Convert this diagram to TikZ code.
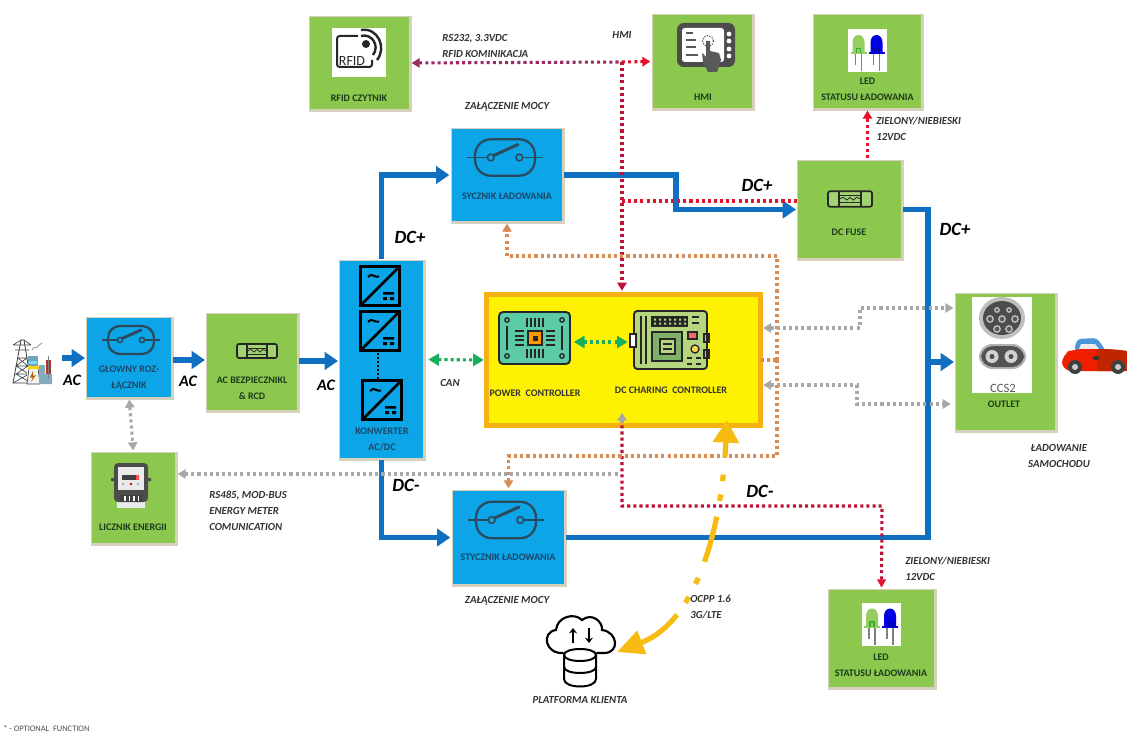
\documentclass[tikz,border=0pt]{standalone}
\usepackage{fontspec}
\setmainfont{Carlito}
\usetikzlibrary{arrows.meta,calc}
\definecolor{cgreen}{HTML}{8CC84E}
\definecolor{cblue}{HTML}{0BA5E8}
\definecolor{cline}{HTML}{0F6FC0}
\definecolor{cshadow}{HTML}{D6D0BC}
\definecolor{cgray}{HTML}{A8A8A8}
\definecolor{cred}{HTML}{E5122D}
\definecolor{ccrim}{HTML}{BE1238}
\definecolor{cmaroon}{HTML}{9B2C60}
\definecolor{corange}{HTML}{D98B55}
\definecolor{cgrn}{HTML}{17AE5C}
\definecolor{cgold}{HTML}{F6BC12}
\definecolor{cborder}{HTML}{F5B014}
\definecolor{ctxtb}{HTML}{1B4668}
\definecolor{ctxtg}{HTML}{1C3A1E}
\definecolor{cicon}{HTML}{2B4A5E}
\definecolor{cpcb}{HTML}{5CC9A7}
\definecolor{cdcb}{HTML}{B5D67E}
\definecolor{cdcc}{HTML}{7FB069}
\tikzset{
  plainbox/.style={inner sep=0,outer sep=0,draw=none},
  gbox/.style={plainbox,fill=cgreen},
  bbox/.style={plainbox,fill=cblue},
  lab/.style={inner sep=0,align=center,font=\bfseries\fontsize{7.5}{9}\selectfont},
  labb/.style={lab,text=ctxtb},
  labg/.style={lab,text=ctxtg},
  note/.style={inner sep=0,anchor=west,font=\bfseries\itshape\fontsize{8.1}{9}\selectfont,text=black!80},
  notec/.style={note,anchor=center},
  big/.style={inner sep=0,font=\bfseries\itshape\fontsize{14}{16}\selectfont},
  acl/.style={inner sep=0,font=\bfseries\itshape\fontsize{12}{14}\selectfont},
  bl/.style={draw=cline,line width=4.2pt,line join=miter,shorten >=1.5pt,shorten <=1.5pt},
  blt/.style={bl,-{Triangle[length=10pt,width=13pt]}},
  dot/.style={line width=2.3pt,dash pattern=on 2.3pt off 2.3pt,shorten >=2pt,shorten <=2pt,
     arrows={-}},
  tipe/.style={-{Triangle[length=6pt,width=7pt]}},
  tips/.style={{Triangle[length=6pt,width=7pt]}-},
  tipb/.style={{Triangle[length=6pt,width=7pt]}-{Triangle[length=6pt,width=7pt]}},
}
\newcommand\bxn[6]{%
  \fill[cshadow] (#2-1,#3-1) rectangle (#4+3,#5+3);
  \pgfmathsetmacro\qcx{(#2+#4)/2}\pgfmathsetmacro\qcy{(#3+#5)/2}%
  \pgfmathsetmacro\qw{(#4-#2)*0.75}\pgfmathsetmacro\qh{(#5-#3)*0.75}%
  \node[#6,minimum width=\qw pt,minimum height=\qh pt] (#1) at (\qcx,\qcy) {};
}
\newcommand\swic[3]{%
  \begin{scope}[shift={(#1,#2)},scale=#3]
    \pgfmathsetmacro\qr{#3*9}
    \draw[cicon,line width=1.7pt,rounded corners=\qr pt] (-23,-14) rectangle (23,14);
    \draw[cicon,line width=1.4pt] (-29,0)--(-11,0) (11,0)--(29,0);
    \draw[cicon,line width=2.2pt,line cap=round] (-10,-1)--(10,-10);
    \draw[cicon,line width=1.2pt,fill=cblue] (-11,0) circle (2.6) (11,0) circle (2.6);
  \end{scope}}
\newcommand\fuseic[3]{%
  \begin{scope}[shift={(#1,#2)},scale=#3]
    \draw[black!85,line width=1.3pt,rounded corners=1.5pt,fill=cgreen!80!white] (-20,-7) rectangle (20,7);
    \draw[black!85,line width=1.1pt] (-10,-7)--(-10,7) (10,-7)--(10,7);
    \draw[black!85,line width=.6pt] (-10,-3)--(10,-3) (-10,3)--(10,3);
    \draw[black!85,line width=.6pt] (-10,0)--(-6,-1.5)--(-3,1)--(0,-1.5)--(3,1)--(6,-1.5)--(10,0);
  \end{scope}}
\newcommand\convic[2]{%
  \begin{scope}[shift={(#1,#2)}]
    \draw[black,line width=2.3pt,fill=cblue] (-19.5,-19.5) rectangle (19.5,19.5);
    \draw[black,line width=2pt] (-19.5,19.5)--(19.5,-19.5);
    \draw[black,line width=1.5pt] (-12,-9) .. controls (-8,-14) and (-6,-8) .. (-1,-9.5);
    \fill[black] (3,6) rectangle (14,8.5) (3,11) rectangle (7,14) (10,11) rectangle (14,14);
  \end{scope}}
\newcommand\ledic[2]{%
  \begin{scope}[shift={(#1,#2)}]
    \fill[white] (-19.5,-21.5) rectangle (19.5,21.5);
    \draw[gray,line width=.9pt] (-12,4)--(-12,15) (-6,4)--(-6,21) (6,4)--(6,15) (12,4)--(12,21);
    \fill[cgreen!90!white] (-15,3) -- (-15,-8) .. controls (-15,-18) and (-3,-18) .. (-3,-8) -- (-3,3) -- cycle;
    \fill[cgreen!90!white] (-17,2) rectangle (-1,4);
    \draw[green!60!black!80,line width=.8pt] (-11,3)--(-11,-2)--(-7,-2)--(-7,3);
    \fill[blue!90!black] (3,3) -- (3,-8) .. controls (3,-18) and (15,-18) .. (15,-8) -- (15,3) -- cycle;
    \fill[blue!90!black] (1,2) rectangle (17,4);
    \draw[blue!60!black,line width=.6pt] (7,3)--(7,-2)--(11,-2)--(11,3);
  \end{scope}}
\begin{document}
\begin{tikzpicture}[x=0.75pt,y=-0.75pt]
\useasboundingbox (0,0) rectangle (1127,734);
\fill[white] (0,0) rectangle (1127,734);
% boxes
\bxn{sw}{87}{318}{171}{397}{bbox}
\bxn{acf}{207}{314}{297}{410}{gbox}
\bxn{conv}{340}{261}{423}{458}{bbox}
\bxn{meter}{92}{453}{175}{543}{gbox}
\bxn{rfid}{310}{17}{409}{109}{gbox}
\bxn{hmi}{653}{15}{752}{108}{gbox}
\bxn{syc}{452}{129}{562}{221}{bbox}
\bxn{dcf}{798}{161}{901}{258}{gbox}
\bxn{ledt}{814}{15}{921}{108}{gbox}
\bxn{out}{956}{294}{1055}{430}{gbox}
\bxn{sty}{453}{491}{564}{584}{bbox}
\bxn{ledb}{829}{590}{934}{687}{gbox}
\node[plainbox,minimum width=205.5pt,minimum height=98pt,fill=yellow,draw=cborder,line width=3.8pt] (main) at (623.5,360) {};
\node[plainbox,minimum width=53pt,minimum height=39pt] (pc) at (534.5,338) {};
\node[plainbox,minimum width=55.5pt,minimum height=43.5pt] (dcc) at (670,340) {};
\node[plainbox,minimum width=37pt,minimum height=38pt] (src) at (35,361) {};
\node[plainbox,minimum width=54pt,minimum height=53pt] (cloud) at (581,652) {};
\node[plainbox,minimum width=48pt,minimum height=28pt] (car) at (1095,356) {};
\coordinate (jh) at (622,62);
\coordinate (jm) at (622,474);
\coordinate (jr) at (622,201);
\coordinate (jo) at (777,360);
\coordinate (dcbus) at (928,362);
\coordinate (jt) at (622,410);
% blue power lines
\draw[blt] (src.east |- 0,358) -- (sw.west |- 0,358);
\draw[blt] (sw.east |- 0,360) -- (acf.west |- 0,360);
\draw[blt] (acf.east |- 0,361) -- (conv.west |- 0,361);
\draw[blt,shorten >=2pt] (conv.north) |- (syc.west);
\draw[blt,shorten >=2pt] (conv.south) |- (sty.west);
\draw[blt] (syc.east) -- (676,175) |- (dcf.west);
\draw[bl] (dcf.east) -| (dcbus) |- (sty.east);
\draw[blt,shorten <=0pt] (dcbus) -- (out.west);
% dotted signal lines
\draw[dot,tipb,draw=cgray] (sw.south) -- (meter.north);
\draw[dot,tips,draw=cgray] (meter.east |- jm) -- (jm);
\draw[dot,tips,draw=cgray,shorten >=0pt] (jt) -- (jt |- main.south);
\draw[dot,draw=ccrim,shorten <=0pt,shorten >=2pt] (jt |- main.south) |- (882,506) -- (ledb.north);
\draw[tipe,draw=cred,fill=cred,line width=0pt,shorten >=2pt] (ledb.north |- 0,580) -- (ledb.north);
\draw[dot,tips,draw=cmaroon,shorten >=0pt] (rfid.east) -- (jh);
\draw[dot,tipe,draw=cred,shorten <=0pt] (jh) -- (hmi.west);
\draw[dot,draw=ccrim,shorten <=0pt,shorten >=3pt,tipe] (jh) -- (jh |- main.north);
\draw[dot,draw=cred,shorten <=0pt,shorten >=0pt] (jr) -- (dcf.west |- jr);
\draw[dot,tipe,draw=cred] (ledt.south |- dcf.north) -- (ledt.south);
\draw[dot,draw=cgrn,shorten <=4pt,shorten >=2pt,{Triangle[length=8pt,width=9pt]}-{Triangle[length=8pt,width=9pt]}] (conv.east) -- (main.west);
\draw[dot,draw=cgrn,shorten <=3pt,shorten >=4pt,{Triangle[length=8pt,width=9pt]}-{Triangle[length=8pt,width=9pt]}] (pc.east |- 0,342) -- (dcc.west |- 0,342);
\draw[dot,draw=corange,shorten <=0pt,shorten >=0pt] (main.east) -- (jo);
\draw[dot,tipe,draw=corange,shorten <=0pt] (jo) |- (syc.south |- 0,256) -- (syc.south);
\draw[dot,tipe,draw=corange,shorten <=0pt] (jo) |- (sty.north |- 0,456) -- (sty.north);
\draw[dot,tipb,draw=cgray] (main.east |- 0,328) -- (860,328) -- (860,308) -- (out.west |- 0,308);
\draw[dot,tipb,draw=cgray,shorten >=4pt] (main.east |- 0,385) -- (857,385) -- (857,404) -- (out.west |- 0,404);
% yellow OCPP link
\draw[draw=cgold,line width=3.9pt,dash pattern=on 12pt off 13pt on 5pt off 10pt on 5pt off 12pt on 35pt off 13pt on 5pt off 11pt on 5pt off 11pt on 60pt,
  {Triangle[length=17pt,width=19pt]}-{Triangle[length=20pt,width=18pt]}] (727,420) .. controls (722,520) and (700,620) .. (cloud.east |- 0,652);
% source icon
\begin{scope}
  \draw[black!75,line width=.6pt] (13,383)--(21,340)--(24,340)--(31,383)--cycle;
  \draw[black!75,line width=.5pt] (13,345)--(31,345) (15,350)--(29,350) (13,345)--(21,340) (31,345)--(24,340)
    (18,358)--(27,358) (16,366)--(28,366) (15,374)--(30,374) (18,358)--(28,366)--(16,374)--(31,383) (27,358)--(16,366)--(29,374)--(13,383);
  \fill[white] (27,367) rectangle (40,384);
  \draw[black!75,line width=.5pt,fill=black!5] (27,384)--(29,368)--(38,368)--(40,384)--cycle;
  \fill[cyan!60!black!70] (28,356) rectangle (38,366);
  \fill[cyan!50!white] (29,361) rectangle (37,364);
  \fill[yellow!70!orange] (28,366) rectangle (39,369);
  \fill[cyan!55!black!60] (39,365) rectangle (45,384) (45,374) rectangle (52,384);
  \fill[red!60!black!80] (46,360) rectangle (51,374);
  \draw[gray,line width=.6pt] (48.5,356)--(48.5,378);
  \fill[orange!70!black] (33,371)--(30,378)--(33,377)--(31,382)--(36,375)--(33,376)--cycle;
  \draw[gray,line width=.5pt] (32,350) .. controls (34,345) and (36,350) .. (38,346) .. controls (39,344) and (41,345) .. (42,343);
\end{scope}
% switch icons
\swic{131}{340}{1}
\swic{505}{157.5}{1.3}
\swic{506}{520}{1.3}
% fuses
\fuseic{257}{351}{1}
\fuseic{850}{199}{1.1}
% converters
\convic{380}{286}
\convic{380}{331}
\convic{382}{400}
\draw[black,line width=1.5pt,dash pattern=on 1.5pt off 1.5pt] (378,353)--(378,379);
% meter
\begin{scope}
  \fill[black!8] (117,490) rectangle (145,508);
  \fill[black!70] (111,478) rectangle (115,481) (147,478) rectangle (151,481);
  \fill[black!70,rounded corners=3pt] (114,463) rectangle (148,502);
  \fill[black!8] (118,467) rectangle (144,490);
  \fill[black!75] (122,475) rectangle (139,479.5);
  \fill[red!70] (136,475) rectangle (139,479.5);
  \fill[cyan!30!gray] (123,484) circle (1.2) (138,484) circle (1.2);
  \fill[red!80!black] (131,484) circle (1.3);
  \fill[black!75] (120,495) rectangle (142,502);
  \foreach \qx in {124,128.5,133,137.5} \fill[white] (\qx,495.5) rectangle +(1.5,5);
\end{scope}
% RFID
\fill[white] (332,28) rectangle (386,77);
\draw[black!85,line width=1.5pt,rounded corners=2pt] (358,36)--(337,36)--(337,67)--(372,67)--(372,60);
\fill[black!85] (366,44) circle (4);
\draw[black!85,line width=1.8pt] (361,36) .. controls (372,33) and (380,46) .. (373,55);
\draw[black!85,line width=1.8pt] (361,30) .. controls (378,27) and (387,48) .. (377,60);
\node[inner sep=0,font=\fontsize{10.5}{12}\selectfont,text=black!85] at (352,61) {RFID};
% HMI
\fill[black!70,rounded corners=5pt] (677,23) rectangle (735,67);
\fill[white,rounded corners=2pt] (682,28) rectangle (724,62);
\draw[black!65,line width=1pt] (686,33)--(693,33) (686,40)--(696,40) (686,47)--(696,47) (686,55)--(698,55);
\foreach \qy in {34,41,49,56} \fill[white] (729,\qy) circle (2.4);
\draw[black!65,line width=.8pt,dash pattern=on 1pt off 1pt] (708,41) circle (5.5);
\fill[black!65] (706,41) -- (710,41) -- (710,51) -- (719,53) -- (721,60) -- (717,72) -- (708,72) -- (703,62) -- (702,53) -- (706,57) -- cycle;
% LEDs
\ledic{867.5}{50.5}
\ledic{881}{624}
% power controller board
\draw[black!85,line width=1.4pt,fill=cpcb,rounded corners=3pt] (499,312) rectangle (570,364);
\foreach \qx/\qy in {507/320,562/320,507/356,562/356} \draw[black!85,line width=1pt] (\qx,\qy) circle (2.2);
\draw[black!85,line width=1pt] (507,326)--(507,350) (562,326)--(562,350);
\fill[black!85] (527,330) rectangle (543,346);
\fill[orange!80!yellow] (529,332) rectangle (541,344);
\fill[black!85] (532.5,335.5) rectangle (537.5,340.5);
\foreach \qx in {527,531,535,539,543} {\draw[black!85,line width=.9pt] (\qx,318)--(\qx,327) (\qx,349)--(\qx,358);}
\foreach \qy in {331,336,340,345} {\draw[black!85,line width=.9pt] (515,\qy)--(524,\qy) (546,\qy)--(555,\qy);}
% dc controller board
\draw[black!85,line width=1.4pt,fill=cdcb,rounded corners=2.5pt] (634,311) rectangle (707,369);
\fill[white] (630,334) rectangle (636,347);
\draw[black!85,line width=1pt] (630,334) rectangle (636,347) (704,334) rectangle (709,342) (704,350) rectangle (709,358);
\draw[black!85,line width=1.1pt] (641,316)--(641,364) (646,316)--(646,364);
\fill[black!85] (651,316) rectangle (688,327);
\foreach \qx in {654,659,664,669,674,679,684} {\fill[cdcb] (\qx,318.5) rectangle +(2,2) (\qx,322.5) rectangle +(2,2);}
\draw[black!85,line width=1pt,fill=cdcc] (652,332) rectangle (682,361);
\draw[black!85,line width=1pt,fill=cdcb] (660,339) rectangle (675,354);
\draw[black!85,line width=1pt] (663,344)--(672,344) (663,349)--(672,349);
\draw[black!85,line width=.8pt,fill=red!60!white!90!gray] (688,332) rectangle (697,339);
\draw[black!85,line width=1pt,fill=yellow!60!orange!70] (695,349) circle (4);
\draw[black!85,line width=1pt] (687,358)--(692,358) (696,358)--(701,358) (687,364)--(692,364) (696,364)--(701,364) (692,317)--(699,317) (692,323)--(699,323);
% outlet
\fill[white] (972,297) rectangle (1032,393);
\fill[black!25] (1002,318) ellipse (23 and 21);
\fill[black!70] (1002,318) ellipse (19 and 17);
\foreach \qx/\qy/\qr in {997/310/2.2,1009/310/2.2,990/319/3.2,1002/319/3.2,1015/319/3.2,997/329/3.2,1009/329/3.2}
  {\draw[black!25,line width=1pt,fill=black!65] (\qx,\qy) circle (\qr);}
\fill[black!30,rounded corners=10pt] (979,344) rectangle (1026,369);
\fill[black!68,rounded corners=9pt] (981,346) rectangle (1024,367);
\foreach \qx in {992,1011} {\fill[black!18] (\qx,356.5) circle (6.5); \fill[black!70] (\qx,356.5) circle (2.5);}
\node[inner sep=0,font=\fontsize{9.5}{11}\selectfont,text=black!65] at (1003,388) {CCS2};
% car
\fill[cyan!65!blue!75,rounded corners=3pt] (1074,351) -- (1077,339) -- (1097,338) -- (1106,351) -- cycle;
\fill[white!85!gray] (1079,349) -- (1081,344) -- (1095,344) -- (1099,349) -- cycle;
\fill[red!75!orange!95!black,rounded corners=7pt] (1062,371) -- (1062,354) -- (1074,349) -- (1110,349) -- (1135,352) -- (1135,371) -- cycle;
\begin{scope}
  \clip (1097,340) rectangle (1127,372);
  \fill[red!60!orange!75!black,rounded corners=7pt] (1062,371) -- (1062,354) -- (1074,349) -- (1110,349) -- (1135,352) -- (1135,371) -- cycle;
\end{scope}
\fill[black!80] (1096,358) ellipse (3.5 and 2);
\fill[black!75] (1075,367) circle (7) (1118,367) circle (7);
\fill[black!20] (1075,367) circle (3) (1118,367) circle (3);
% cloud
\begin{scope}
  \draw[black,line width=1.6pt,line cap=round] (563,653) .. controls (545,654) and (541,632) .. (556,630) .. controls (557,617) and (574,612) .. (582,620) .. controls (592,612) and (603,622) .. (602,630) .. controls (618,632) and (620,653) .. (604,653) -- (597,653);
  \draw[black,line width=1.5pt,fill=white] (564,655) .. controls (564,647) and (596,647) .. (596,655) -- (596,679) .. controls (596,689) and (564,689) .. (564,679) -- cycle;
  \draw[black,line width=1.5pt] (564,655) .. controls (564,663) and (596,663) .. (596,655);
  \draw[black,line width=1.5pt] (564,667) .. controls (564,675) and (596,675) .. (596,667);
  \draw[black,line width=1.5pt,-{Stealth[length=4pt,width=6pt]}] (573,643) -- (573,628);
  \draw[black,line width=1.5pt,-{Stealth[length=4pt,width=6pt]}] (589,628) -- (589,643);
\end{scope}
% box labels
\node[labb] (t1) at (129,378) {GŁOWNY ROZ-\\[3pt]ŁĄCZNIK};
\node[labg] (t2) at (252,388) {AC BEZPIECZNIKL\\[3pt]\& RCD};
\node[labb] (t3) at (382,439) {KONWERTER\\[3pt]AC/DC};
\node[labg] (t4) at (133,527) {LICZNIK ENERGII};
\node[labg] (t5) at (359,98) {RFID CZYTNIK};
\node[labg] (t6) at (703,97) {HMI};
\node[labb] (t7) at (507,196) {SYCZNIK ŁADOWANIA};
\node[labb] (t8) at (508,557) {STYCZNIK ŁADOWANIA};
\node[labg] (t9) at (849,232) {DC FUSE};
\node[labg] (t10) at (867.5,89) {LED\\[3pt]STATUSU ŁADOWANIA};
\node[labg] (t11) at (881,665) {LED\\[3pt]STATUSU ŁADOWANIA};
\node[labg] (t12) at (1004,404) {OUTLET};
\node[lab,text=black!80] (t13) at (535,393) {POWER\ \ CONTROLLER};
\node[lab,text=black!80] (t14) at (671,390) {DC CHARING\ \ CONTROLLER};
% signal labels
\node[acl] (a1) at (72,380) {AC};
\node[acl] (a2) at (188,381) {AC};
\node[acl] (a3) at (326,385) {AC};
\node[big] (d1) at (410,237) {DC+};
\node[big] (d2) at (757,185) {DC+};
\node[big] (d3) at (955,229) {DC+};
\node[big] (d4) at (406,485) {DC-};
\node[big] (d5) at (760,491) {DC-};
\node[notec] (n1) at (450,383) {CAN};
\node[note,align=left] (n2) at (209,511) {RS485, MOD-BUS\\[3pt]ENERGY METER\\[3pt]COMUNICATION};
\node[note,align=left] (n3) at (442,46) {RS232, 3.3VDC\\[3pt]RFID KOMINIKACJA};
\node[notec] (n4) at (622,35) {HMI};
\node[notec] (n5) at (507,107) {ZAŁĄCZENIE MOCY};
\node[notec] (n6) at (507,601) {ZAŁĄCZENIE MOCY};
\node[note,align=left] (n7) at (876,128.5) {ZIELONY/NIEBIESKI\\[3pt]12VDC};
\node[note,align=left] (n8) at (905,569) {ZIELONY/NIEBIESKI\\[3pt]12VDC};
\node[notec,align=center] (n9) at (1059,455.5) {ŁADOWANIE\\[3pt]SAMOCHODU};
\node[note,align=left] (n10) at (690,607.5) {OCPP 1.6\\[3pt]3G/LTE};
\node[notec] (n11) at (580,700) {PLATFORMA KLIENTA};
\node[inner sep=0,anchor=west,font=\fontsize{6.3}{8}\selectfont,text=black!70] (n12) at (3,729) {* - OPTIONAL\ \ FUNCTION};
\end{tikzpicture}
\end{document}
